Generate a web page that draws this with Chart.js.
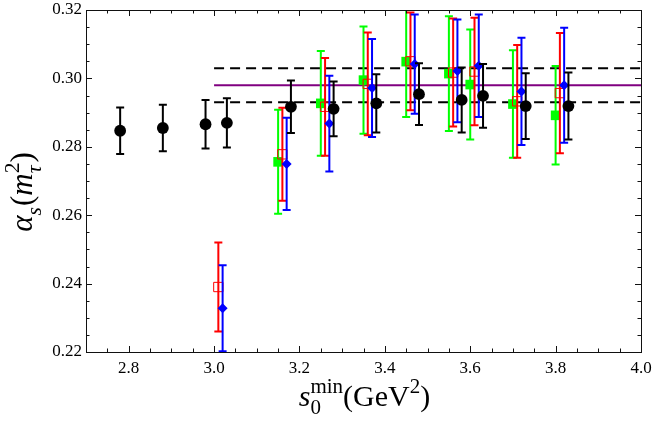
<!DOCTYPE html>
<html><head><meta charset="utf-8">
<script src="https://cdn.jsdelivr.net/npm/chart.js@4/dist/chart.umd.min.js"></script>
<style>html,body{margin:0;padding:0;background:#fff}#wrap{width:654px;height:426px}</style>
</head><body><div id="wrap"><canvas id="c"></canvas></div>
<script>
// ---- data ----
const xTickValues = [2.8, 3.0, 3.2, 3.4, 3.6, 3.8, 4.0];
const yTickValues = [0.22, 0.24, 0.26, 0.28, 0.30, 0.32];

const greenX   = [3.15, 3.25, 3.35, 3.45, 3.55, 3.60, 3.70, 3.80];
const greenY   = [0.2756, 0.2927, 0.2995, 0.3049, 0.3014, 0.2982, 0.2925, 0.2892];
const greenErr = [0.0152, 0.0153, 0.0157, 0.0162, 0.0168, 0.0161, 0.0157, 0.0144];

const redX   = [3.01, 3.16, 3.26, 3.36, 3.46, 3.56, 3.61, 3.71, 3.81];
const redY   = [0.2390, 0.2778, 0.2917, 0.2984, 0.3050, 0.3017, 0.3020, 0.2933, 0.2957];
const redErr = [0.0130, 0.0136, 0.0143, 0.0150, 0.0143, 0.0158, 0.0157, 0.0165, 0.0176];

const blueX   = [3.02, 3.17, 3.27, 3.37, 3.47, 3.57, 3.62, 3.72, 3.82];
const blueY   = [0.2328, 0.2750, 0.2868, 0.2972, 0.3042, 0.3022, 0.3037, 0.2962, 0.2980];
const blueErr = [0.0126, 0.0135, 0.0140, 0.0143, 0.0145, 0.0150, 0.0150, 0.0157, 0.0168];

const blackX   = [2.78, 2.88, 2.98, 3.03, 3.18, 3.28, 3.38, 3.48, 3.58, 3.63, 3.73, 3.83];
const blackY   = [0.2847, 0.2855, 0.2866, 0.2870, 0.2917, 0.2911, 0.2927, 0.2954, 0.2937, 0.2949, 0.2919, 0.2919];
const blackErr = [0.0068, 0.0068, 0.0071, 0.0072, 0.0077, 0.0080, 0.0085, 0.0090, 0.0095, 0.0093, 0.0096, 0.0098];

const fitRange  = [3.0, 4.0];
const fitValues = [0.293, 0.298, 0.303]; // lower, central, upper

// ---- helpers ----
const pts = (xs, ys) => xs.map((x, i) => ({x: x, y: ys[i]}));
const hline = (v) => fitRange.map(x => ({x: x, y: v}));
const SERIF = "'Liberation Serif', serif";

const errorBars = {
  id: 'errorBars',
  beforeDatasetDraw(chart, args) {
    const ds = chart.data.datasets[args.index];
    if (!ds.errors) return;
    const ctx = chart.ctx, a = chart.chartArea, xs = chart.scales.x, ys = chart.scales.y;
    ctx.save();
    ctx.beginPath(); ctx.rect(a.left, a.top, a.right - a.left, a.bottom - a.top); ctx.clip();
    ctx.strokeStyle = ds.errColor; ctx.lineWidth = ds.errWidth; ctx.lineCap = 'butt';
    const cap = ds.capHalf;
    ds.data.forEach((p, i) => {
      const px = xs.getPixelForValue(p.x);
      const y1 = ys.getPixelForValue(p.y + ds.errors[i]);
      const y2 = ys.getPixelForValue(p.y - ds.errors[i]);
      ctx.beginPath();
      ctx.moveTo(px, y1); ctx.lineTo(px, y2);
      ctx.moveTo(px - cap, y1); ctx.lineTo(px + cap, y1);
      ctx.moveTo(px - cap, y2); ctx.lineTo(px + cap, y2);
      ctx.stroke();
    });
    ctx.restore();
  }
};

function segFont(s, size) {
  const sz = (s.sub || s.sup) ? size * 0.7 : size;
  return (s.it ? 'italic ' : '') + sz + 'px ' + SERIF;
}
function segW(ctx, s, size) { ctx.font = segFont(s, size); return ctx.measureText(s.t).width + (s.pad || 0); }
function richWidth(ctx, segs, size) {
  let w = 0;
  segs.forEach(s => {
    if (s.stack) { w += Math.max(...s.stack.map(q => segW(ctx, q, size))); }
    else w += segW(ctx, s, size);
  });
  return w;
}
function drawSeg(ctx, s, x, size) {
  ctx.font = segFont(s, size);
  const dy = s.sub ? size * 0.28 : (s.sup ? -size * 0.42 : 0);
  ctx.fillText(s.t, x, dy);
  return segW(ctx, s, size);
}
function drawRich(ctx, segs, size) {
  let x = -richWidth(ctx, segs, size) / 2;
  segs.forEach(s => {
    if (s.stack) {
      let m = 0; s.stack.forEach(q => { m = Math.max(m, drawSeg(ctx, q, x, size)); });
      x += m;
    } else x += drawSeg(ctx, s, x, size);
  });
}

const frame = {
  id: 'frame',
  afterDraw(chart) {
    const ctx = chart.ctx, a = chart.chartArea, xs = chart.scales.x, ys = chart.scales.y;
    ctx.save();
    ctx.strokeStyle = '#111'; ctx.lineWidth = 1;
    ctx.strokeRect(Math.round(a.left) + 0.5, Math.round(a.top) + 0.5, Math.round(a.right - a.left), Math.round(a.bottom - a.top));
    const MJ = 6, MN = 3.5;
    ctx.beginPath();
    for (let k = 0; k <= 26; k++) {
      const v = 2.7 + k * 0.05;
      const major = xTickValues.some(t => Math.abs(t - v) < 1e-6);
      const L = major ? MJ : MN;
      const px = Math.round(xs.getPixelForValue(v)) + 0.5;
      ctx.moveTo(px, a.bottom); ctx.lineTo(px, a.bottom - L);
      ctx.moveTo(px, a.top); ctx.lineTo(px, a.top + L);
    }
    for (let k = 0; k <= 20; k++) {
      const v = 0.22 + k * 0.005;
      const major = yTickValues.some(t => Math.abs(t - v) < 1e-6);
      const L = major ? MJ : MN;
      const py = Math.round(ys.getPixelForValue(v)) + 0.5;
      ctx.moveTo(a.left, py); ctx.lineTo(a.left + L, py);
      ctx.moveTo(a.right, py); ctx.lineTo(a.right - L, py);
    }
    ctx.stroke();

    // axis titles
    ctx.fillStyle = '#000'; ctx.textBaseline = 'alphabetic'; ctx.textAlign = 'left';
    const xt = [{t: 's', it: true}, {stack: [{t: '0', sub: true}, {t: 'min', sup: true}]},
                {t: '(GeV'}, {t: '2', sup: true}, {t: ')'}];
    ctx.save(); ctx.translate((a.left + a.right) / 2 + 1, 406); drawRich(ctx, xt, 30); ctx.restore();
    const yt = [{t: 'α', it: true}, {t: 's', it: true, sub: true, pad: 1}, {t: '('}, {t: 'm', it: true},
                {stack: [{t: 'τ', it: true, sub: true}, {t: '2', sup: true}]}, {t: ')'}];
    ctx.save(); ctx.translate(32, 192); ctx.rotate(-Math.PI / 2); drawRich(ctx, yt, 31); ctx.restore();
    ctx.restore();
  }
};

const lineDs = (v, dash, color) => ({
  type: 'scatter', data: hline(v), showLine: true, pointRadius: 0, borderColor: color,
  borderWidth: 2, borderDash: dash, fill: false, order: 5
});

new Chart(document.getElementById('c'), {
  type: 'scatter',
  data: {
    datasets: [
      {label: 'black', data: pts(blackX, blackY), errors: blackErr, errColor: '#000', errWidth: 2, capHalf: 4,
       pointStyle: 'circle', pointRadius: 5.9, backgroundColor: '#000', borderColor: '#000', borderWidth: 0, order: 1},
      {label: 'blue', data: pts(blueX, blueY), errors: blueErr, errColor: '#0000ff', errWidth: 2, capHalf: 4,
       pointStyle: 'rectRot', pointRadius: 5, backgroundColor: '#0000ff', borderColor: '#0000ff', borderWidth: 0, order: 2},
      {label: 'red', data: pts(redX, redY), errors: redErr, errColor: '#ff0000', errWidth: 2, capHalf: 4,
       pointStyle: 'rect', pointRadius: 6.6, backgroundColor: 'rgba(255,255,255,0)', borderColor: '#ff0000', borderWidth: 1, order: 3},
      {label: 'green', data: pts(greenX, greenY), errors: greenErr, errColor: '#00ff00', errWidth: 2, capHalf: 4,
       pointStyle: 'rect', pointRadius: 6.8, backgroundColor: '#00ff00', borderColor: '#00ff00', borderWidth: 0, order: 4},
      lineDs(fitValues[1], [], '#800080'),
      lineDs(fitValues[2], [10, 6], '#000'),
      lineDs(fitValues[0], [10, 6], '#000')
    ]
  },
  options: {
    responsive: true, maintainAspectRatio: false, animation: false,
    events: [],
    layout: {padding: {left: 0, top: 10, right: 13, bottom: 0}},
    plugins: {legend: {display: false}, tooltip: {enabled: false}},
    elements: {point: {hoverRadius: 0}},
    scales: {
      x: {
        type: 'linear', min: 2.7, max: 4.0,
        grid: {display: false, drawTicks: false}, border: {display: false},
        afterBuildTicks: s => { s.ticks = xTickValues.map(v => ({value: v})); },
        afterFit: s => { s.height = 74; s.paddingLeft = 0; s.paddingRight = 0; },
        ticks: {color: '#000', font: {family: SERIF, size: 17}, padding: 6, maxRotation: 0, autoSkip: false,
                callback: v => Number(v).toFixed(1)}
      },
      y: {
        type: 'linear', min: 0.22, max: 0.32,
        grid: {display: false, drawTicks: false}, border: {display: false},
        afterBuildTicks: s => { s.ticks = yTickValues.map(v => ({value: v})); },
        afterFit: s => { s.width = 86; s.paddingTop = 0; s.paddingBottom = 0; },
        ticks: {color: '#000', font: {family: SERIF, size: 17}, padding: 4,
                callback: v => Number(v).toFixed(2)}
      }
    }
  },
  plugins: [errorBars, frame]
});
</script>
</body></html>
